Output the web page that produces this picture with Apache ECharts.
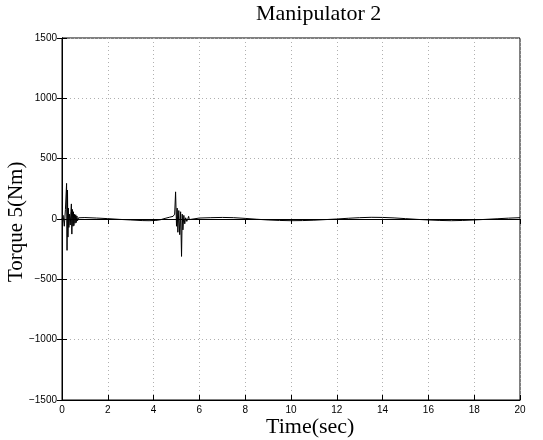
<!DOCTYPE html>
<html>
<head>
<meta charset="utf-8">
<script src="https://cdn.jsdelivr.net/npm/echarts@6/dist/echarts.min.js"></script>
<style>
  html, body { margin: 0; padding: 0; background: #fff; }
  #chart { width: 543px; height: 440px; }
</style>
</head>
<body>
<div id="chart"></div>
<script>
// Joint 5 torque of manipulator 2 over the run
const timeSec = [
  0.00, 0.05, 0.10, 0.15, 0.20, 0.22, 0.24, 0.26, 0.28, 0.30, 0.33, 0.36,
  0.39, 0.41, 0.43, 0.45, 0.48, 0.50, 0.52, 0.54, 0.57, 0.60, 0.62, 0.65,
  0.68, 0.72, 0.80, 1.00, 1.50, 2.00, 2.50, 3.00, 3.50, 3.80, 4.10, 4.30,
  4.50, 4.70, 4.85, 4.92, 4.96, 5.00, 5.03, 5.06, 5.10, 5.14, 5.18, 5.22,
  5.25, 5.28, 5.32, 5.36, 5.40, 5.45, 5.50, 5.53, 5.56, 5.60, 6.00, 6.50,
  7.00, 7.50, 8.00, 8.50, 9.00, 9.50, 10.00, 10.50, 11.00, 11.50, 12.00,
  12.50, 13.00, 13.50, 14.00, 14.50, 15.00, 15.50, 16.00, 16.50, 17.00,
  17.50, 18.00, 18.50, 19.00, 19.50, 20.00
];
const torque5 = [
  0, 30, -60, 80, 295, -260, 240, -150, 90, -70, 40, -50,
  60, 125, -125, 80, -60, 60, -55, 40, -35, 35, -30, 25,
  -15, 10, 12, 12, 8, 3, -3, -8, -13, -14, -12, -6,
  5, 15, 22, 40, 225, -60, 90, -110, 70, -130, 60, -310,
  40, -90, 30, -40, 10, -20, 5, 22, -5, 2, 8, 11,
  13, 11, 5, -2, -8, -12, -14, -13, -10, -5, 0,
  6, 11, 14, 13, 9, 3, -3, -8, -12, -14,
  -12, -8, -3, 2, 7, 11
];
const xTicks = [0, 2, 4, 6, 8, 10, 12, 14, 16, 18, 20];
const yTicks = [-1500, -1000, -500, 0, 500, 1000, 1500];

const chart = echarts.init(document.getElementById('chart'), null, { renderer: 'canvas' });

const tickFont = { fontFamily: 'Liberation Sans, Arial, sans-serif', fontSize: 10, color: '#000' };
const fmtNum = v => String(v).replace('-', '\u2212');

const points = timeSec.map((t, i) => [t, torque5[i]]);

chart.setOption({
  animation: false,
  backgroundColor: '#fff',
  grid: {
    left: 62, right: 23, top: 38, bottom: 40,
    show: true, borderColor: '#000', borderWidth: 1, backgroundColor: 'transparent'
  },
  xAxis: [
    {
      type: 'value', min: xTicks[0], max: xTicks[xTicks.length - 1], interval: 2,
      axisLine: { show: true, onZero: false, lineStyle: { color: '#000', width: 1 } },
      axisTick: { show: true, inside: true, length: 5, lineStyle: { color: '#000' } },
      axisLabel: Object.assign({ margin: 5, formatter: fmtNum, showMaxLabel: true }, tickFont),
      splitLine: { show: true, lineStyle: { color: '#b0b0b0', type: [1, 3], width: 1 } }
    },
    {
      type: 'value', position: 'top', min: 0, max: 20, interval: 2,
      axisLine: { show: true, lineStyle: { color: '#000' } },
      axisTick: { show: true, inside: true, length: 5, lineStyle: { color: '#000' } },
      axisLabel: { show: false }, splitLine: { show: false }
    }
  ],
  yAxis: [
    {
      type: 'value', min: yTicks[0], max: yTicks[yTicks.length - 1], interval: 500,
      axisLine: { show: true, onZero: false, lineStyle: { color: '#000', width: 1 } },
      axisTick: { show: true, inside: true, length: 5, lineStyle: { color: '#000' } },
      axisLabel: Object.assign({ margin: 5, formatter: fmtNum }, tickFont),
      splitLine: { show: true, lineStyle: { color: '#b0b0b0', type: [1, 3], width: 1 } }
    },
    {
      type: 'value', position: 'right', min: -1500, max: 1500, interval: 500,
      axisLine: { show: true, lineStyle: { color: '#000' } },
      axisTick: { show: true, inside: true, length: 5, lineStyle: { color: '#000' } },
      axisLabel: { show: false }, splitLine: { show: false }
    }
  ],
  series: [{
    type: 'line',
    data: points,
    showSymbol: false,
    smooth: false,
    lineStyle: { color: '#000', width: 1 },
    xAxisIndex: 0, yAxisIndex: 0
  }],
  graphic: [
    {
      type: 'text', left: 256, top: 3,
      style: { text: 'Manipulator 2', font: '22px "Liberation Serif", "Times New Roman", serif', fill: '#000' }
    },
    {
      type: 'text', left: 266, top: 416,
      style: { text: 'Time(sec)', font: '22px "Liberation Serif", "Times New Roman", serif', fill: '#000' }
    },
    {
      type: 'text', x: 6, y: 282, rotation: Math.PI / 2,
      style: { text: 'Torque 5(Nm)', font: '21px "Liberation Serif", "Times New Roman", serif', fill: '#000' }
    }
  ]
});
</script>
</body>
</html>
